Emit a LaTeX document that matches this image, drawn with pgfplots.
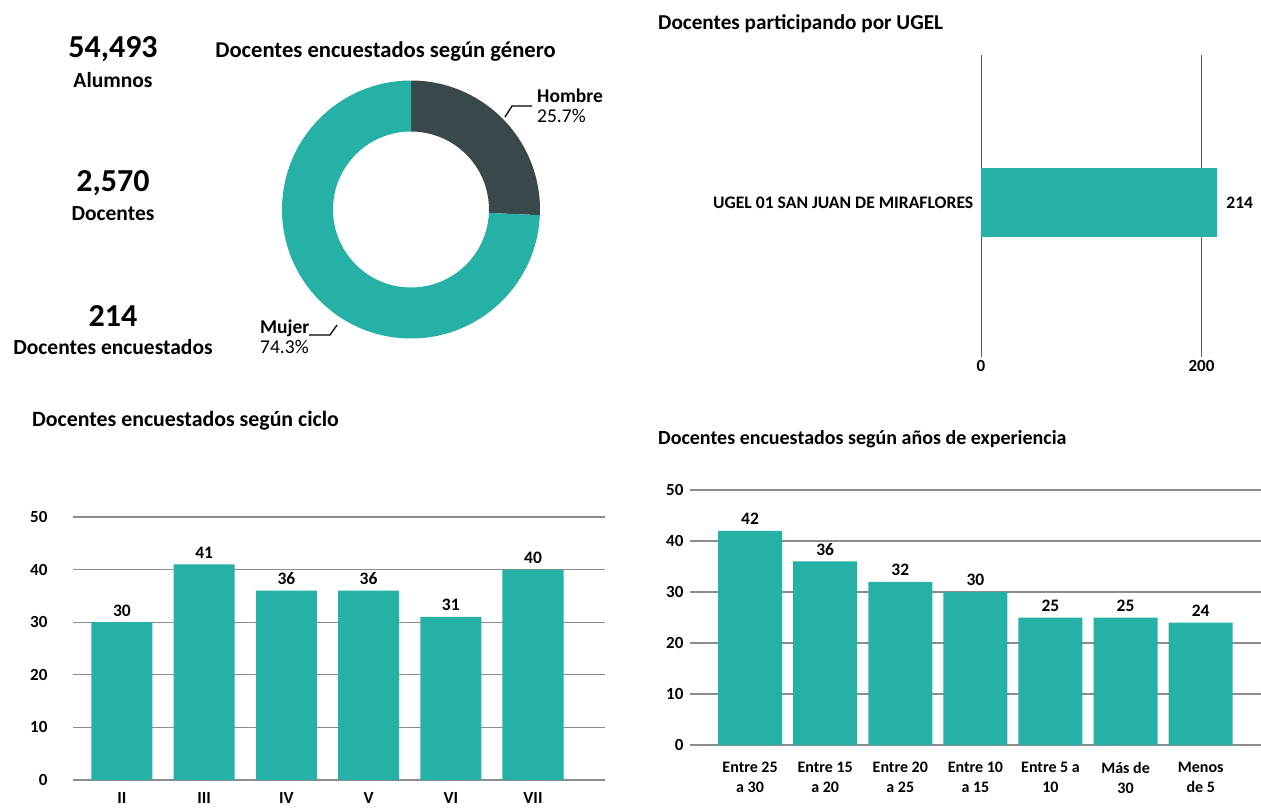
\documentclass[border=0pt]{standalone}
\usepackage{fontspec}
\setmainfont{Carlito}
\usepackage{pgfplots}
\pgfplotsset{compat=1.18}
\definecolor{barc}{HTML}{25B1A6}
\definecolor{darkc}{HTML}{3A474B}
\definecolor{gridc}{HTML}{8C8C8C}
\definecolor{gridl}{HTML}{A8A8A8}
\definecolor{gridd}{HTML}{5A5A5A}
\newcommand\titlefont{\fontsize{21.5pt}{25pt}\selectfont\bfseries}
\newcommand\tfont[1]{\fontsize{#1pt}{25pt}\selectfont\bfseries}
\newcommand\bigfont{\fontsize{32pt}{36pt}\selectfont\bfseries}
\newcommand\smallfont{\fontsize{16pt}{20pt}\selectfont\bfseries}
\newcommand\tickfont{\fontsize{17pt}{20pt}\selectfont\bfseries}
\newcommand\valfont{\fontsize{17.5pt}{20pt}\selectfont\bfseries}
\newcommand\piefont{\fontsize{19.5pt}{22pt}\selectfont}
\pgfplotsset{dash/.style={
  axis line style={draw=none}, tick style={draw=none},
  major grid style={draw=gridc, line width=1.1pt},
  /pgf/number format/assume math mode=true,
  ticklabel style={font=\tickfont},
  nodes near coords,
  every node near coord/.append style={font=\valfont, text=black},
  clip=false,
}}
\begin{document}
\begin{tikzpicture}
\path[use as bounding box] (0pt,-807pt) rectangle (1261pt,0pt);
% KPI block
\node[font=\bigfont] at (113pt,-49pt) {54,493};
\node[font=\titlefont] at (113pt,-80pt) {Alumnos};
\node[font=\bigfont] at (113pt,-183pt) {2,570};
\node[font=\titlefont] at (113pt,-214pt) {Docentes};
\node[font=\bigfont] at (113pt,-316pt) {214};
\node[font=\titlefont] at (113pt,-347pt) {Docentes encuestados};
% Donut
\node[font=\tfont{22.6}] at (385.5pt,-51pt) {Docentes encuestados según género};
\def\hombre{25.7}
\def\mujer{74.3}
\pgfmathsetmacro\hA{90-3.6*\hombre}
\pgfmathsetmacro\hB{\hA-3.6*\mujer}
\begin{axis}[hide axis, x=1pt, y=1pt, xmin=-140, xmax=140, ymin=-140, ymax=140,
  anchor=center, at={(411pt,-209.5pt)}, clip=false]
\fill[darkc, shift={(axis cs:0,0)}] (90:129pt) arc[start angle=90, end angle=\hA, radius=129pt]
  -- (\hA:78pt) arc[start angle=\hA, end angle=90, radius=78pt] -- cycle;
\fill[barc, shift={(axis cs:0,0)}] (\hA:129pt) arc[start angle=\hA, end angle=\hB, radius=129pt]
  -- (\hB:78pt) arc[start angle=\hB, end angle=\hA, radius=78pt] -- cycle;
\end{axis}
\draw[line width=1.3pt] (505pt,-117pt) -- (512pt,-106pt) -- (532pt,-106pt);
\node[anchor=base west, inner sep=0pt, font=\piefont\bfseries] at (537pt,-102pt) {Hombre};
\node[anchor=base west, inner sep=0pt, font=\piefont] at (537pt,-122pt) {25.7\%};
\draw[line width=1.3pt] (309pt,-335pt) -- (330pt,-335pt) -- (337pt,-325pt);
\node[anchor=base west, inner sep=0pt, font=\piefont\bfseries] at (260pt,-333pt) {Mujer};
\node[anchor=base west, inner sep=0pt, font=\piefont] at (260pt,-353pt) {74.3\%};
% UGEL
\node[anchor=west, inner sep=0pt, font=\tfont{21.2}] at (658pt,-24pt) {Docentes participando por UGEL};
\begin{axis}[dash, xbar, at={(981pt,-357pt)}, anchor=south west,
  x=1.1025pt, y=302pt, xmin=0, xmax=250, ymin=0, ymax=1,
  bar width=69pt, xtick={200}, extra x ticks={0},
  xmajorgrids, major grid style={draw=gridd, line width=1pt},
  extra x tick style={grid style={draw=gridl, line width=1.8pt}},
  point meta=x,
  every node near coord/.append style={xshift=6pt},
  ytick={0.5116}, yticklabels={UGEL 01 SAN JUAN DE MIRAFLORES},
  yticklabel style={font=\fontsize{17.6pt}{20pt}\selectfont\bfseries}]
\addplot[fill=barc, draw=none] coordinates {(214,0.5116)};
\end{axis}
% Ciclo
\node[anchor=west, inner sep=0pt, font=\tfont{21.85}] at (32pt,-421pt) {Docentes encuestados según ciclo};
\begin{axis}[dash, ybar, at={(73pt,-780pt)}, anchor=south west,
  x=82.2pt, y=5.26pt, xmin=-0.596, xmax=5.87, ymin=0, ymax=50,
  bar width=61pt, xtick=data, xticklabels={II,III,IV,V,VI,VII},
  every node near coord/.append style={yshift=2.5pt},
  ytick={0,10,...,50}, ymajorgrids,
  yticklabel style={xshift=-22pt}, xticklabel style={yshift=-5pt}]
\addplot[fill=barc, draw=none] coordinates {(0,30) (1,41) (2,36) (3,36) (4,31) (5,40)};
\end{axis}
% Experiencia
\node[anchor=west, inner sep=0pt, font=\tfont{20}] at (658pt,-439pt) {Docentes encuestados según años de experiencia};
\begin{axis}[dash, ybar, at={(690pt,-745pt)}, anchor=south west,
  x=75.1pt, y=5.1pt, xmin=-0.8, xmax=6.8, ymin=0, ymax=50,
  bar width=64pt, xtick=data,
  every node near coord/.append style={yshift=2.5pt},
  xticklabels={{Entre 25\\a 30},{Entre 15\\a 20},{Entre 20\\a 25},{Entre 10\\a 15},{Entre 5 a\\10},{Más de\\30},{Menos\\de 5}},
  ytick={0,10,...,50}, ymajorgrids,
  yticklabel style={xshift=-3pt}, xticklabel style={yshift=-9pt, align=center, font=\smallfont}]
\addplot[fill=barc, draw=none] coordinates {(0,42) (1,36) (2,32) (3,30) (4,25) (5,25) (6,24)};
\end{axis}
\end{tikzpicture}
\end{document}
